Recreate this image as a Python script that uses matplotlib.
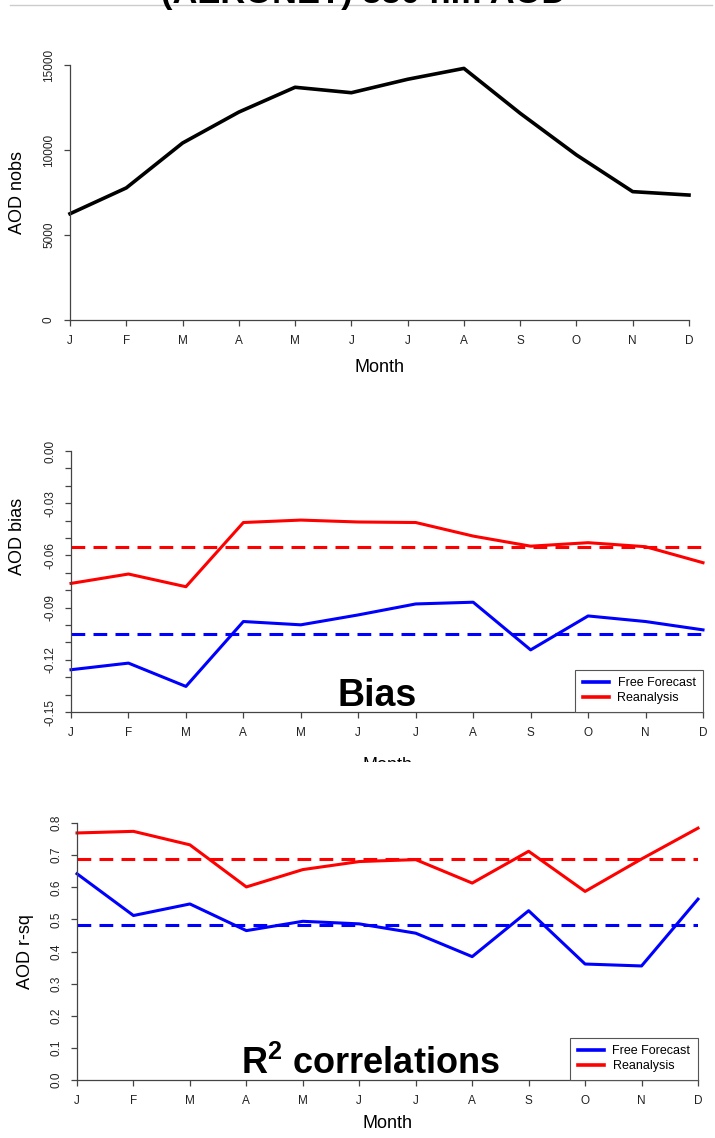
import numpy as np
import matplotlib
matplotlib.use("Agg")
import matplotlib.pyplot as plt
from matplotlib.patches import Rectangle

plt.rcParams['font.family'] = ['Liberation Sans', 'DejaVu Sans']
plt.rcParams['mathtext.fontset'] = 'custom'
plt.rcParams['mathtext.rm'] = 'Liberation Sans'
plt.rcParams['mathtext.bf'] = 'Liberation Sans:bold'

# data
months = ['J', 'F', 'M', 'A', 'M', 'J', 'J', 'A', 'S', 'O', 'N', 'D']
nobs = [6250, 7770, 10410, 12230, 13690, 13370, 14160, 14800, 12160, 9710, 7550, 7350]

bias_free = [-0.1257, -0.1219, -0.1353, -0.0980, -0.0999, -0.0942, -0.0879, -0.0869,
             -0.1143, -0.0948, -0.0980, -0.1028]
bias_rean = [-0.0761, -0.0707, -0.0780, -0.0411, -0.0397, -0.0408, -0.0411, -0.0489,
             -0.0547, -0.0527, -0.0550, -0.0642]
bias_free_mean = -0.1051
bias_rean_mean = -0.0554

rsq_free = [0.642, 0.512, 0.548, 0.465, 0.494, 0.486, 0.457, 0.384, 0.527, 0.361, 0.355, 0.563]
rsq_rean = [0.769, 0.774, 0.732, 0.601, 0.655, 0.680, 0.686, 0.613, 0.712, 0.587, 0.688, 0.784]
rsq_free_mean = 0.482
rsq_rean_mean = 0.689

W, H = 715, 1138
fig = plt.figure(figsize=(W / 100, H / 100), dpi=100)

AX_COL = '#444444'
TXT_COL = '#222222'


def panel(x0, x1, ytop, ybot):
    ax = fig.add_axes([x0 / W, 1 - ybot / H, (x1 - x0) / W, (ybot - ytop) / H])
    ax.patch.set_alpha(0)
    for s in ['top', 'right']:
        ax.spines[s].set_visible(False)
    for s in ['left', 'bottom']:
        ax.spines[s].set_color(AX_COL)
        ax.spines[s].set_linewidth(0.9)
    ax.tick_params(direction='out', length=4.3, width=0.9, color=AX_COL,
                   labelsize=8.5, labelcolor=TXT_COL, pad=6.5)
    x = np.arange(len(months))
    ax.set_xlim(0, len(months) - 1)
    ax.set_xticks(x)
    ax.set_xticklabels(months)
    return ax, x


def ylabels(ax):
    for lab in ax.get_yticklabels():
        lab.set_rotation(90)
        lab.set_va('center')


def legend(ax):
    leg = ax.legend(loc='lower right', bbox_to_anchor=(1, 0), borderaxespad=0, fontsize=9,
                    fancybox=False, edgecolor='#555555', framealpha=1, handlelength=2.1,
                    handletextpad=0.7, borderpad=0.6, labelspacing=0.25)
    leg.get_frame().set_linewidth(0.8)
    for ln in leg.get_lines():
        ln.set_linewidth(2.6)


# top title (cut off at the top edge)
fig.add_artist(plt.Line2D([10 / W, 712 / W], [1 - 5 / H, 1 - 5 / H],
                          color='#cccccc', lw=1, transform=fig.transFigure, zorder=0))
fig.text(364 / W, 1 - 3 / H, '(AERONET) 550 nm AOD', ha='center', va='baseline',
         fontsize=24.8, weight='bold')

# panel 1: number of obs
ax1, x = panel(70, 689, 65, 320)
ax1.plot(x, nobs, color='black', lw=2.6, clip_on=False, solid_joinstyle='round')
ax1.set_ylim(0, 15000)
ax1.set_yticks([0, 5000, 10000, 15000])
ax1.set_yticklabels(['0', '5000', '10000', '15000'])
ylabels(ax1)
fig.text(18 / W, 1 - 192 / H, 'AOD nobs', rotation=90, ha='center', va='center', fontsize=13)
fig.text(379 / W, 1 - 368 / H, 'Month', ha='center', va='center', fontsize=13)

# panel 2: bias
ax2, x = panel(71, 703, 451, 712)
ax2.plot(x, bias_free, color='#0000ff', lw=2.2, clip_on=False, label='Free Forecast')
ax2.plot(x, bias_rean, color='#ff0000', lw=2.2, clip_on=False, label='Reanalysis')
ax2.axhline(bias_free_mean, color='#0000ff', lw=2.2, dashes=(4.5, 2.7))
ax2.axhline(bias_rean_mean, color='#ff0000', lw=2.2, dashes=(4.5, 2.7))
ax2.set_ylim(-0.15, 0.0)
bt = np.round(np.arange(-0.15, 0.001, 0.01), 2)
ax2.set_yticks(bt)
ax2.set_yticklabels([f'{v:.2f}' if round(v * 100) % 3 == 0 else '' for v in bt])
ylabels(ax2)
legend(ax2)
fig.text(18 / W, 1 - 536 / H, 'AOD bias', rotation=90, ha='center', va='center', fontsize=13)
fig.text(338 / W, 1 - 706 / H, 'Bias', ha='left', va='baseline', fontsize=27, weight='bold')
fig.text(387 / W, 1 - 766 / H, 'Month', ha='center', va='center', fontsize=13)
# the reference crops this panel just below its tick labels
fig.add_artist(Rectangle((0, 1 - 790 / H), 1, 28 / H, transform=fig.transFigure,
                         facecolor='white', edgecolor='none', zorder=10))

# panel 3: r-squared
ax3, x = panel(77, 698, 823, 1080)
ax3.plot(x, rsq_free, color='#0000ff', lw=2.2, clip_on=False, label='Free Forecast')
ax3.plot(x, rsq_rean, color='#ff0000', lw=2.2, clip_on=False, label='Reanalysis')
ax3.axhline(rsq_free_mean, color='#0000ff', lw=2.2, dashes=(4.5, 2.7))
ax3.axhline(rsq_rean_mean, color='#ff0000', lw=2.2, dashes=(4.5, 2.7))
ax3.set_ylim(0, 0.8)
rt = np.round(np.arange(0, 0.81, 0.1), 1)
ax3.set_yticks(rt)
ax3.set_yticklabels([f'{v:.1f}' for v in rt])
ylabels(ax3)
legend(ax3)
fig.text(25 / W, 1 - 952 / H, 'AOD r-sq', rotation=90, ha='center', va='center', fontsize=13)
fig.text(241 / W, 1 - 1074 / H, r'$\mathbf{R^2}$ correlations', ha='left', va='baseline',
         fontsize=26, weight='bold')
fig.text(387 / W, 1 - 1124 / H, 'Month', ha='center', va='center', fontsize=13)

fig.savefig('out.png', dpi=100)
